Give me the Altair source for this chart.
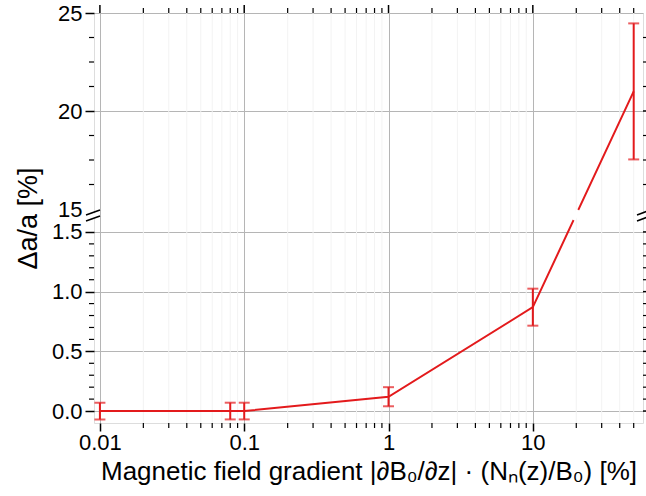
import altair as alt
import pandas as pd

# ---- data ----
x_vals = [0.01, 0.08, 0.1, 1, 10, 50]
y_vals = [0.0, 0.0, 0.0, 0.12, 0.87, 21.0]
y_err = [0.07, 0.07, 0.07, 0.08, 0.155, 3.47]

x_major = [0.01, 0.1, 1, 10]
x_minor = [0.02, 0.03, 0.04, 0.05, 0.06, 0.07, 0.08, 0.09,
           0.2, 0.3, 0.4, 0.5, 0.6, 0.7, 0.8, 0.9,
           2, 3, 4, 5, 6, 7, 8, 9,
           20, 30, 40, 50]
y_major = [0.0, 0.5, 1.0, 1.5, 15, 20, 25]
y_minor = [0.1, 0.2, 0.3, 0.4, 0.6, 0.7, 0.8, 0.9, 1.1, 1.2, 1.3, 1.4,
           16.25, 17.5, 18.75, 21.25, 22.5, 23.75]

RED = "#e31a1c"
FONT = "Liberation Sans"
W, H = 549, 410

df = pd.DataFrame({"x": x_vals, "y": y_vals})
df["lo"] = [v - e for v, e in zip(y_vals, y_err)]
df["hi"] = [v + e for v, e in zip(y_vals, y_err)]

xmaj = pd.DataFrame({"v": x_major})
xmin = pd.DataFrame({"v": x_minor})
ymaj = pd.DataFrame({"v": [v for v in y_major if v not in (15, 25)]})
ymin = pd.DataFrame({"v": y_minor})
dummy = pd.DataFrame({"k": [0]})

xscale = alt.Scale(type="log", domain=[0.0091, 58], nice=False)
yscale = alt.Scale(domain=[-0.1, 1.6, 15, 25], range=[H, 207, 196, 0],
                   nice=False, zero=False)

xaxis = alt.Axis(
    values=x_major,
    labelExpr="format(datum.value, '~g')",
    title="Magnetic field gradient |∂B₀/∂z| · (Nₙ(z)/B₀) [%]",
    grid=True, gridColor="#b5b5b5", gridWidth=1,
    tickSize=8, tickWidth=1.5, tickColor="black",
    domain=False,
    labelFontSize=22, labelPadding=1, labelColor="black",
    titleFontSize=26, titleFontWeight="normal", titleColor="black",
    titlePadding=5,
)
yaxis = alt.Axis(
    values=y_major,
    labelExpr="datum.value >= 10 ? format(datum.value, 'd') : format(datum.value, '.1f')",
    title="Δa/a [%]",
    grid=True, gridColor="#b5b5b5", gridWidth=1,
    gridOpacity={"condition": {"test": "datum.value == 15", "value": 0}, "value": 1},
    tickOpacity={"condition": {"test": "datum.value == 15", "value": 0}, "value": 1},
    tickSize=9, tickWidth=1.5, tickColor="black",
    domain=False,
    labelFontSize=22, labelPadding=3, labelColor="black",
    titleFontSize=27, titleFontWeight="normal", titleColor="black",
    titlePadding=9,
)

# faint minor vertical gridlines
minor_grid = alt.Chart(xmin).mark_rule(color="#f3f3f3", strokeWidth=1).encode(
    x=alt.X("v:Q", scale=xscale, axis=xaxis), y=alt.value(0), y2=alt.value(H)
)

line = alt.Chart(df).mark_line(color=RED, strokeWidth=2).encode(
    x=alt.X("x:Q", scale=xscale, axis=xaxis),
    y=alt.Y("y:Q", scale=yscale, axis=yaxis),
)
bars = alt.Chart(df).mark_rule(color=RED, strokeWidth=2).encode(
    x=alt.X("x:Q", scale=xscale, axis=xaxis),
    y=alt.Y("lo:Q", scale=yscale, axis=yaxis),
    y2="hi:Q",
)
cap_lo = alt.Chart(df).mark_tick(color=RED, orient="horizontal", size=11, thickness=2).encode(
    x=alt.X("x:Q", scale=xscale, axis=xaxis),
    y=alt.Y("lo:Q", scale=yscale, axis=yaxis),
)
cap_hi = alt.Chart(df).mark_tick(color=RED, orient="horizontal", size=11, thickness=2).encode(
    x=alt.X("x:Q", scale=xscale, axis=xaxis),
    y=alt.Y("hi:Q", scale=yscale, axis=yaxis),
)

# minor ticks on bottom / top, major ticks on top
tick_bot_min = alt.Chart(xmin).mark_rule(color="black", strokeWidth=1.2).encode(
    x=alt.X("v:Q", scale=xscale, axis=xaxis), y=alt.value(H), y2=alt.value(H + 5))
tick_top_min = alt.Chart(xmin).mark_rule(color="black", strokeWidth=1.2).encode(
    x=alt.X("v:Q", scale=xscale, axis=xaxis), y=alt.value(0), y2=alt.value(-5))
tick_top_maj = alt.Chart(xmaj).mark_rule(color="black", strokeWidth=1.5).encode(
    x=alt.X("v:Q", scale=xscale, axis=xaxis), y=alt.value(0), y2=alt.value(-8))
# minor ticks on left / right, major ticks on right
tick_left_min = alt.Chart(ymin).mark_rule(color="black", strokeWidth=1.2).encode(
    y=alt.Y("v:Q", scale=yscale, axis=yaxis), x=alt.value(0), x2=alt.value(-5))
tick_right_min = alt.Chart(ymin).mark_rule(color="black", strokeWidth=1.2).encode(
    y=alt.Y("v:Q", scale=yscale, axis=yaxis), x=alt.value(W), x2=alt.value(W + 5))
tick_right_maj = alt.Chart(ymaj).mark_rule(color="black", strokeWidth=1.5).encode(
    y=alt.Y("v:Q", scale=yscale, axis=yaxis), x=alt.value(W), x2=alt.value(W + 8))

# axis-break decorations
def seg(x1, y1, x2, y2, color="black", sw=1.6):
    return alt.Chart(dummy).mark_rule(color=color, strokeWidth=sw).encode(
        x=alt.value(x1), y=alt.value(y1), x2=alt.value(x2), y2=alt.value(y2))

breaks = [
    seg(0, 200.5, 0, 205.5, color="white", sw=4),
    seg(W, 200.5, W, 205.5, color="white", sw=4),
    seg(-8, 202, 6, 197), seg(-8, 208, 6, 203),
    seg(W - 6, 202, W + 6, 197.5), seg(W - 6, 208, W + 6, 203.5),
    seg(479.4, 207, 484.4, 197, color="white", sw=4),
]

chart = alt.layer(
    minor_grid, line, bars, cap_lo, cap_hi,
    tick_bot_min, tick_top_min, tick_top_maj,
    tick_left_min, tick_right_min, tick_right_maj,
    *breaks,
).properties(
    width=W, height=H,
    autosize=alt.AutoSizeParams(type="none"),
    padding={"left": 94, "top": 13, "right": 3, "bottom": 73},
).configure_view(
    stroke="black", strokeWidth=2
).configure_axis(
    labelFont=FONT, titleFont=FONT
).configure(background="white")

chart.save("out.html", embed_options={"renderer": "svg", "actions": False})
